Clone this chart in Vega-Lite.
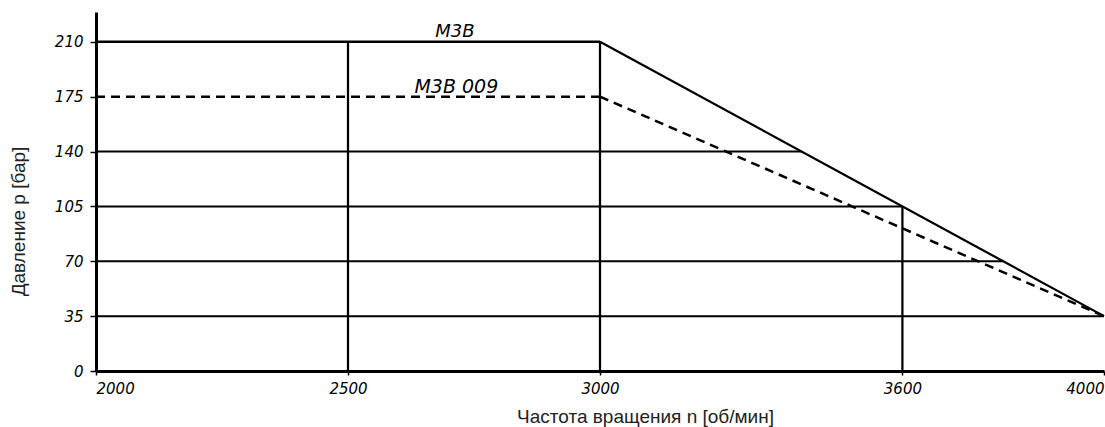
{
  "$schema": "https://vega.github.io/schema/vega-lite/v6.json",
  "width": 1008,
  "height": 359,
  "autosize": {"type": "none"},
  "padding": {"left": 96, "top": 12, "right": 1, "bottom": 56},
  "background": "white",
  "config": {"view": {"stroke": null}},
  "datasets": {
    "grid": [
      {"x": 2000, "x2": 3000, "y": 210, "y2": 210, "w": "thick"},
      {"x": 2000, "x2": 3400, "y": 140, "y2": 140, "w": "thin"},
      {"x": 2000, "x2": 3600, "y": 105, "y2": 105, "w": "thin"},
      {"x": 2000, "x2": 3800, "y": 70, "y2": 70, "w": "thin"},
      {"x": 2000, "x2": 4000, "y": 35, "y2": 35, "w": "thin"},
      {"x": 2500, "x2": 2500, "y": 0, "y2": 210, "w": "mid"},
      {"x": 3000, "x2": 3000, "y": 0, "y2": 210, "w": "mid"},
      {"x": 3600, "x2": 3600, "y": 0, "y2": 105, "w": "mid"},
      {"x": 3000, "x2": 4000, "y": 210, "y2": 35, "w": "mid"}
    ],
    "dashed": [
      {"x": 2000, "x2": 3000, "y": 175, "y2": 175},
      {"x": 3000, "x2": 4000, "y": 175, "y2": 35}
    ],
    "labels": [
      {"x": 2712, "y": 213, "t": "M3B", "s": "a"},
      {"x": 2715, "y": 177.3, "t": "M3B 009", "s": "b"}
    ]
  },
  "layer": [
    {
      "data": {"name": "grid"},
      "mark": {"type": "rule", "color": "black", "strokeCap": "butt"},
      "encoding": {
        "x": {"field": "x", "type": "quantitative",
          "scale": {"domain": [2000, 4000], "nice": false, "zero": false},
          "axis": {
            "values": [2000, 2500, 3000, 3600, 4000],
            "format": "d",
            "grid": false,
            "domainColor": "black", "domainWidth": 3,
            "tickColor": "black", "tickSize": 4, "tickWidth": 1.5,
            "labelFont": "DejaVu Sans", "labelFontStyle": "italic", "labelFontSize": 15,
            "labelColor": "black", "labelPadding": 6, "labelFlush": true,
            "title": "Частота вращения n [об/мин]",
            "titleFont": "Liberation Sans", "titleFontWeight": "normal", "titleFontSize": 19,
            "titleColor": "#222", "titleX": 549, "titleY": 51, "titleAlign": "center",
            "titleBaseline": "alphabetic", "titleAnchor": null
          }},
        "x2": {"field": "x2"},
        "y": {"field": "y", "type": "quantitative",
          "scale": {"domain": [0, 229], "nice": false},
          "axis": {
            "values": [0, 35, 70, 105, 140, 175, 210],
            "format": "d",
            "grid": false,
            "domainColor": "black", "domainWidth": 3,
            "tickColor": "black", "tickSize": 6, "tickWidth": 1.5,
            "labelFont": "DejaVu Sans", "labelFontStyle": "italic", "labelFontSize": 15,
            "labelColor": "black", "labelPadding": 7,
            "title": "Давление p [бар]",
            "titleFont": "Liberation Sans", "titleFontWeight": "normal", "titleFontSize": 19,
            "titleColor": "#222", "titleX": -72, "titleY": 209, "titleAlign": "center",
            "titleBaseline": "alphabetic", "titleAngle": -90
          }},
        "y2": {"field": "y2"},
        "strokeWidth": {"field": "w", "type": "nominal",
          "scale": {"domain": ["thick", "mid", "thin"], "range": [2.5, 2, 1.5]},
          "legend": null}
      }
    },
    {
      "data": {"name": "dashed"},
      "mark": {"type": "rule", "color": "black", "strokeWidth": 2.5, "strokeDash": [9, 6]},
      "encoding": {
        "x": {"field": "x", "type": "quantitative"},
        "x2": {"field": "x2"},
        "y": {"field": "y", "type": "quantitative"},
        "y2": {"field": "y2"}
      }
    },
    {
      "data": {"name": "labels"},
      "mark": {"type": "text", "font": "DejaVu Sans", "fontStyle": "italic", "color": "black", "baseline": "alphabetic"},
      "encoding": {
        "x": {"field": "x", "type": "quantitative"},
        "y": {"field": "y", "type": "quantitative"},
        "text": {"field": "t"},
        "size": {"field": "s", "type": "nominal", "scale": {"domain": ["a", "b"], "range": [18, 19]}, "legend": null}
      }
    }
  ]
}
